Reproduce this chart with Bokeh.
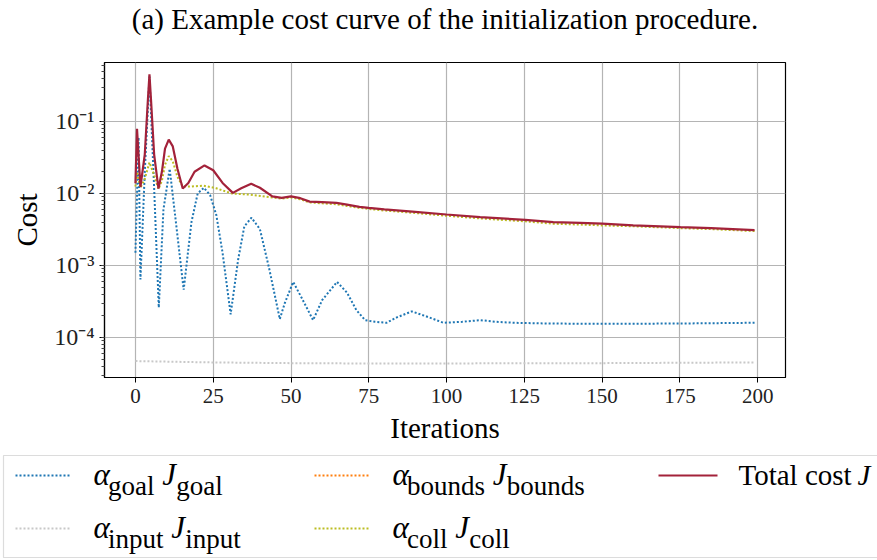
from bokeh.plotting import figure
from bokeh.models import Range1d, FixedTicker, CustomJSTickFormatter
from bokeh.layouts import column
from bokeh.embed import file_html
from bokeh.resources import INLINE
from bokeh.core.properties import value

# ---------------- data ----------------
x_ticks = [0, 25, 50, 75, 100, 125, 150, 175, 200]

total_iter = [0, 0.5, 1.6, 3, 4, 4.5, 5, 6, 7.4, 8.5, 9.5, 10.7, 12, 13.5, 15.2, 17, 19, 22.2, 25, 28,
              31.3, 34, 37.2, 40, 44, 47, 50, 53, 56, 60, 64.6, 68, 72, 75, 80, 89, 100, 110.8, 125.3, 134.3,
              143, 150, 160, 175.2, 185, 199]
total_cost = [0.0138, 0.079, 0.0123, 0.035, 0.2, 0.45, 0.2, 0.035, 0.0117, 0.02, 0.042, 0.056, 0.045, 0.022,
              0.0117, 0.014, 0.02, 0.0245, 0.021, 0.014, 0.0102, 0.0118, 0.0136, 0.012, 0.0091, 0.0087, 0.0091,
              0.0086, 0.0077, 0.0076, 0.0074, 0.0070, 0.0065, 0.0063, 0.0060, 0.0056, 0.0051, 0.0047, 0.0043,
              0.0040, 0.0039, 0.0038, 0.0036, 0.0034, 0.0033, 0.0031]

coll_iter = [0, 0.5, 1.6, 3, 4.5, 6, 7.4, 8.5, 9.5, 10.7, 12, 13.5, 15.2, 18, 22, 26, 31, 37, 44, 47,
             50, 53, 56, 60, 64.6, 68, 72, 75, 80, 89, 100, 110.8, 125.3, 134.3, 143, 150, 160, 175.2, 185, 199]
coll_cost = [0.0125, 0.02, 0.012, 0.016, 0.027, 0.018, 0.0115, 0.015, 0.025, 0.033, 0.028, 0.017, 0.0125,
             0.0125, 0.0128, 0.0118, 0.0100, 0.0096, 0.0088, 0.0085, 0.0088, 0.0083, 0.0075, 0.0073, 0.0071,
             0.0067, 0.0063, 0.0061, 0.0058, 0.0054, 0.0049, 0.0045, 0.0041, 0.0038, 0.0037, 0.0036, 0.0035,
             0.0033, 0.0032, 0.0030]

goal_iter = [0, 1, 1.6, 3, 4.5, 6, 7.5, 9, 11, 13, 15.5, 18, 20, 22, 24, 26, 28, 30.6, 33, 35,
             37.3, 40, 43, 46.4, 48, 50.7, 53.5, 57.1, 60, 64.8, 68, 71, 73.8, 77, 80.7, 84, 88.8, 93, 99, 105,
             110.8, 116, 121.5, 130, 143, 160, 180, 199]
goal_cost = [0.0015, 0.06, 0.00064, 0.02, 0.42, 0.012, 0.00026, 0.006, 0.022, 0.004, 0.00046, 0.004, 0.01,
             0.012, 0.0095, 0.005, 0.0015, 0.00021, 0.0012, 0.0035, 0.0046, 0.0032, 0.0009, 0.00018, 0.0003,
             0.00059, 0.00035, 0.000174, 0.00033, 0.00059, 0.00042, 0.00024, 0.000174, 0.000165, 0.00016,
             0.00019, 0.00023, 0.0002, 0.00016, 0.000165, 0.000174, 0.000165, 0.00016, 0.000157, 0.000155,
             0.000155, 0.000157, 0.00016]

input_iter = [0, 25, 50, 75, 100, 125, 150, 175, 199]
input_cost = [4.7e-5, 4.5e-5, 4.4e-5, 4.35e-5, 4.35e-5, 4.4e-5, 4.4e-5, 4.45e-5, 4.5e-5]

# bounds term stays below the visible range (nothing drawn)
bounds_iter = []
bounds_cost = []

title_text = "(a) Example cost curve of the initialization procedure."
x_label = "Iterations"
y_label = "Cost"

# legend entries: (symbol, subscript, symbol, subscript)
legend_goal = ("α", "goal", "J", "goal")
legend_input = ("α", "input", "J", "input")
legend_bounds = ("α", "bounds", "J", "bounds")
legend_coll = ("α", "coll", "J", "coll")
legend_total = ("Total cost", "J")

# ---------------- styles ----------------
FONT = "Liberation Serif"
C_GOAL = "#1f77b4"
C_INPUT = "#c8c8c8"
C_BOUNDS = "#ff7f0e"
C_COLL = "#bcbd22"
C_TOTAL = "#a3223a"
DOT = "2 2"
SHIFT = 0.43   # renderer places the alphabetic baseline this many ems below the anchor

# ---------------- title strip ----------------
top = figure(width=877, height=57, x_range=Range1d(0, 877), y_range=Range1d(57, 0),
             output_backend="svg", toolbar_location=None,
             min_border_left=0, min_border_right=0, min_border_top=0, min_border_bottom=0,
             x_axis_location=None, y_axis_location=None)
top.frame_align = False
top.grid.visible = False
top.outline_line_color = None
TITLE_PX = 29
top.text(x=[444.5], y=[31 - SHIFT * TITLE_PX], text=[title_text], text_font=value(FONT),
         text_font_size=f"{TITLE_PX}px", text_align="center", text_baseline="alphabetic",
         text_color="black")

# ---------------- main plot ----------------
p = figure(width=877, height=393, y_axis_type="log",
           x_range=Range1d(-9.95, 208.95), y_range=Range1d(2.78e-5, 0.659),
           output_backend="svg", toolbar_location=None,
           min_border_left=104, min_border_right=92, min_border_top=5, min_border_bottom=73)
p.frame_align = False

p.xaxis.ticker = FixedTicker(ticks=x_ticks)
p.yaxis.formatter = CustomJSTickFormatter(code="""
const e = Math.round(Math.log10(tick));
const sup = {'-':'\u207b','0':'\u2070','1':'\u00b9','2':'\u00b2','3':'\u00b3','4':'\u2074','5':'\u2075','6':'\u2076','7':'\u2077','8':'\u2078','9':'\u2079'};
return '10' + String(e).split('').map(c => sup[c]).join('');
""")

for ax in (p.xaxis, p.yaxis):
    ax.axis_label_text_font = FONT
    ax.axis_label_text_font_size = "29px"
    ax.axis_label_text_font_style = "normal"
    ax.axis_label_text_color = "black"
    ax.major_label_text_font = FONT
    ax.major_label_text_font_size = "21px"
    ax.major_label_text_color = "#222222"
    ax.axis_line_color = "black"
    ax.axis_line_width = 1.2
    ax.major_tick_line_color = "black"
    ax.major_tick_out = 5
    ax.major_tick_in = 0
    ax.minor_tick_line_color = "#444444"
    ax.minor_tick_out = 3
    ax.minor_tick_in = 0
    ax.major_label_standoff = 6
    ax.axis_label_standoff = 6
p.xaxis.axis_label = x_label
p.yaxis.axis_label = y_label
p.yaxis.major_label_text_font_size = "24px"
p.yaxis.major_label_standoff = 5
p.yaxis.axis_label_standoff = 8
p.xaxis.minor_tick_line_color = None

p.grid.grid_line_color = "#b4b4b4"
p.grid.grid_line_width = 1.2
p.outline_line_color = "black"
p.outline_line_width = 1.2

p.line(goal_iter, goal_cost, line_color=C_GOAL, line_width=2, line_dash=DOT)
p.line(input_iter, input_cost, line_color=C_INPUT, line_width=2, line_dash=DOT)
p.line(bounds_iter, bounds_cost, line_color=C_BOUNDS, line_width=2, line_dash=DOT)
p.line(coll_iter, coll_cost, line_color=C_COLL, line_width=2, line_dash=DOT)
p.line(total_iter, total_cost, line_color=C_TOTAL, line_width=2.2)

# ---------------- legend (drawn as its own panel below) ----------------
leg = figure(width=877, height=110, x_range=Range1d(0, 877), y_range=Range1d(110, 0),
             output_backend="svg", toolbar_location=None,
             min_border_left=0, min_border_right=0, min_border_top=0, min_border_bottom=0,
             x_axis_location=None, y_axis_location=None)
leg.frame_align = False
leg.grid.visible = False
leg.outline_line_color = None
leg.quad(left=3, right=905, top=5, bottom=107, fill_color="white", line_color="#dcdcdc", line_width=1.2)

M = 31   # main legend font px
S = 27   # subscript font px
WID = {'g': .5, 'o': .5, 'a': .444, 'l': .278, 'i': .278, 'n': .5, 'p': .5, 'u': .5, 't': .278,
       'b': .5, 'd': .5, 's': .389, 'c': .444}


def wsub(s):
    return sum(WID[c] for c in s) * S


def entry(x0, ybase, entry_text, color, dash):
    a, s1, j, s2 = entry_text
    leg.line([x0 - 78, x0 - 23], [ybase - 12, ybase - 12], line_color=color, line_width=2, line_dash=dash)
    xa = x0
    xs1 = xa + 0.47 * M
    xj = xs1 + wsub(s1) + 0.25 * M
    xs2 = xj + 0.45 * M
    leg.text(x=[xa, xj], y=[ybase - SHIFT * M] * 2, text=[a, j], text_font=value(FONT),
             text_font_size=f"{M}px", text_font_style="italic", text_baseline="alphabetic",
             text_color="black")
    leg.text(x=[xs1, xs2], y=[ybase + 10 - SHIFT * S] * 2, text=[s1, s2], text_font=value(FONT),
             text_font_size=f"{S}px", text_baseline="alphabetic", text_color="black")


entry(93, 37, legend_goal, C_GOAL, DOT)
entry(93, 90, legend_input, C_INPUT, DOT)
entry(392, 37, legend_bounds, C_BOUNDS, DOT)
entry(392, 90, legend_coll, C_COLL, DOT)

TOT = 29
leg.line([658, 717], [25, 25], line_color=C_TOTAL, line_width=2.2)
leg.text(x=[738], y=[37 - SHIFT * TOT], text=[legend_total[0]], text_font=value(FONT),
         text_font_size=f"{TOT}px", text_baseline="alphabetic", text_color="black")
leg.text(x=[857], y=[37 - SHIFT * TOT], text=[legend_total[1]], text_font=value(FONT),
         text_font_size=f"{TOT}px", text_font_style="italic", text_baseline="alphabetic", text_color="black")

layout = column(top, p, leg, spacing=0)
with open("out.html", "w", encoding="utf-8") as f:
    f.write(file_html(layout, INLINE))
